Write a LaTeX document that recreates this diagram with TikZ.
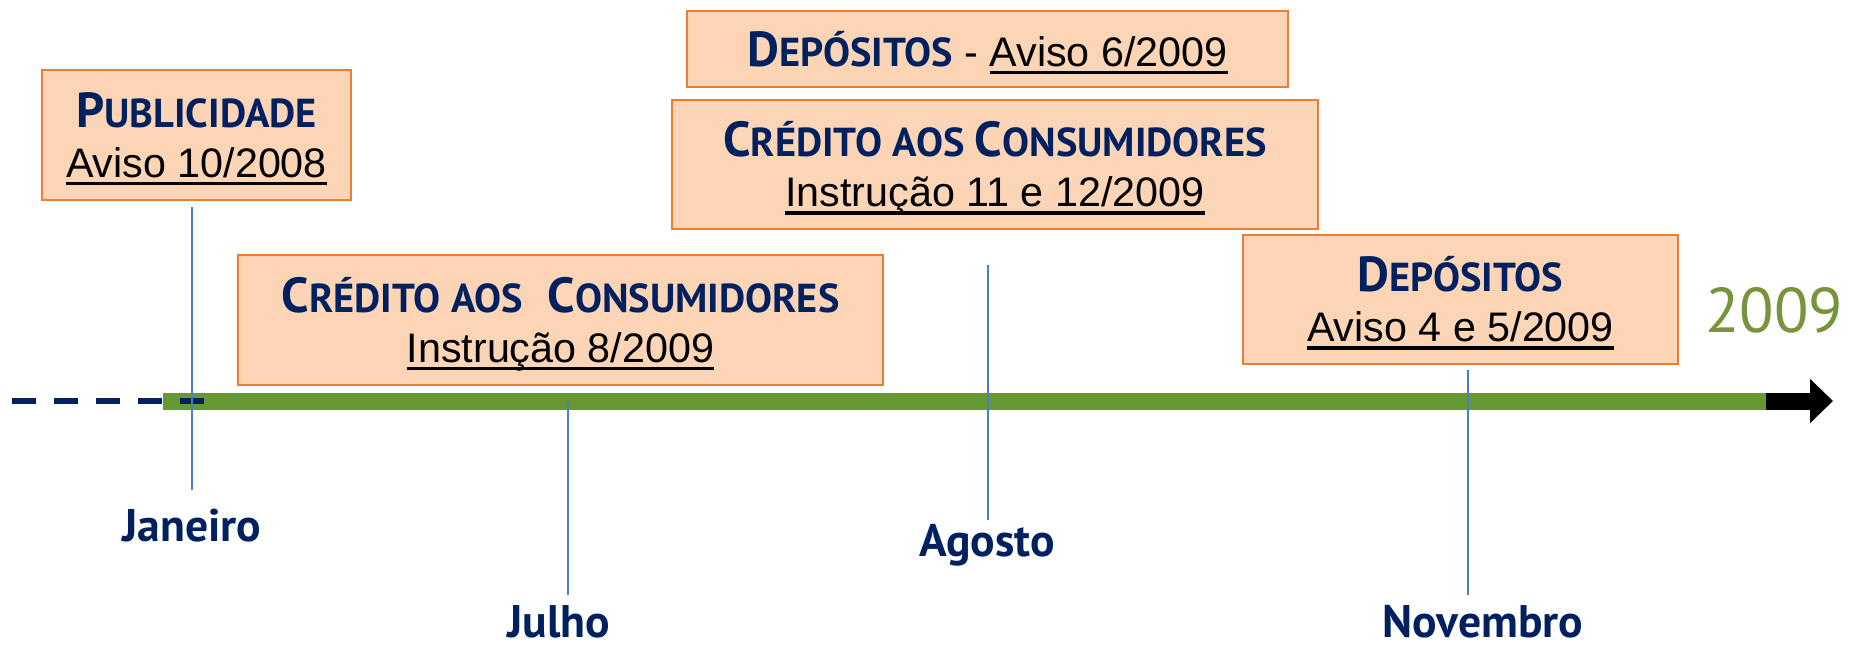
\documentclass[tikz,border=0pt]{standalone}
\usepackage{fontspec}
\setmainfont{Liberation Sans}
\newfontfamily\headfont{PT Sans}
\newfontfamily\yearfont{PT Sans}
\usetikzlibrary{arrows.meta}

\definecolor{navyblue}{RGB}{0,32,96}
\definecolor{boxorange}{RGB}{237,125,49}
\definecolor{boxfill}{RGB}{251,213,181}
\definecolor{bargreen}{RGB}{102,153,51}
\definecolor{yeargreen}{RGB}{119,147,60}
\definecolor{tickblue}{RGB}{74,126,193}

% fake small caps: big first letter, smaller rest
\newcommand{\capword}[2]{{\fontsize{28}{28.5}\selectfont #1}{\fontsize{23}{28.5}\selectfont #2}}
\newcommand{\headline}[1]{\rule{0pt}{25.5pt}{\headfont\bfseries\color{navyblue}#1}}
\newcommand{\undl}[1]{\setbox0\hbox{#1}\leavevmode\rlap{\rule[-4.6pt]{\wd0}{1.9pt}}\box0\rule[-6pt]{0pt}{6pt}}

\begin{document}
\begin{tikzpicture}[x=0.02cm, y=-0.02cm,
  law/.style={draw=boxorange, line width=0.04cm, fill=boxfill, align=center, inner sep=0pt, font=\fontsize{23.5}{28.5}\selectfont},
  month/.style={font=\headfont\bfseries\fontsize{26}{28}\selectfont, text=navyblue, inner sep=0pt, text height=18.2pt, text depth=0pt, anchor=north},
  tick/.style={draw=tickblue, line width=0.035cm}]
  \useasboundingbox (0,0) rectangle (1854,649);

  % --- the time axis ---
  \coordinate (barstart) at (163,401);
  \coordinate (barend) at (1766,401);
  \coordinate (tip) at (1833,401);
  \coordinate (pastend) at (12,401);
  \coordinate (dashend) at (205,401);
  \draw[bargreen, line width=0.34cm] (barstart) -- (barend);
  \draw[black, line width=0.34cm, -{Triangle[length=0.46cm, width=0.86cm]}] (barend) -- (tip);
  \draw[navyblue, line width=0.12cm, dash pattern=on 0.48cm off 0.36cm] (pastend) -- (dashend);
  \node[text=yeargreen, font=\yearfont\fontsize{36}{38}\selectfont, inner sep=0pt] (year) at (1774,310) {2009};

  % --- the rules, in boxes ---
  \node[law, minimum width=6.18cm, minimum height=2.6cm] (pub) at (196.5,135)
    {\headline{\capword{P}{UBLICIDADE}}\\ \undl{Aviso 10/2008}};
  \node[law, minimum width=12.9cm, minimum height=2.6cm] (cred8) at (560.5,320)
    {\headline{\capword{C}{RÉDITO} \capword{}{AOS}\hspace{0.35em} \capword{C}{ONSUMIDORES}}\\ \undl{Instrução 8/2009}};
  \node[law, minimum width=12.02cm, minimum height=1.52cm] (dep6) at (987.5,49)
    {\headline{\capword{D}{EPÓSITOS}} - \undl{Aviso 6/2009}};
  \node[law, minimum width=12.92cm, minimum height=2.58cm] (cred11) at (995,164.5)
    {\headline{\capword{C}{RÉDITO} \capword{}{AOS} \capword{C}{ONSUMIDORES}}\\ \undl{Instrução 11 e 12/2009}};
  \node[law, minimum width=8.7cm, minimum height=2.58cm] (dep45) at (1460.5,299.5)
    {\headline{\capword{D}{EPÓSITOS}}\\ \undl{Aviso 4 e 5/2009}};

  % --- months and their ticks ---
  \node[month] (jan) at (192,509) {Janeiro};
  \node[month] (jul) at (559,605) {Julho};
  \node[month] (ago) at (987,524) {Agosto};
  \node[month] (nov) at (1483,605) {Novembro};
  \coordinate (jantop) at (192,207);
  \coordinate (julbar) at (568,401);
  \coordinate (agotop) at (988,265);
  \coordinate (novtop) at (1468,370);
  \draw[tick, shorten >=0.38cm] (jantop) -- (jantop |- jan.north);
  \draw[tick, shorten >=0.2cm] (julbar) -- (julbar |- jul.north);
  \draw[tick, shorten >=0.08cm] (agotop) -- (agotop |- ago.north);
  \draw[tick, shorten >=0.2cm] (novtop) -- (novtop |- nov.north);
\end{tikzpicture}
\end{document}
